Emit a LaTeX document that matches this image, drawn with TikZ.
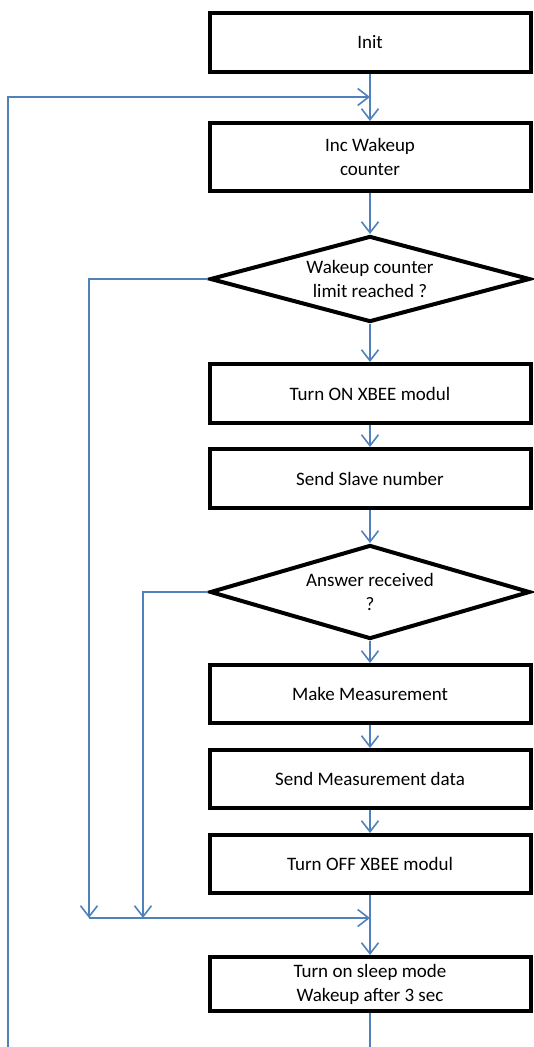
\documentclass[tikz,border=0pt]{standalone}
\usepackage{fontspec}
\setmainfont{Carlito}
\usepackage{tikz}
\usetikzlibrary{arrows.meta,shapes.geometric}
\definecolor{flowblue}{RGB}{79,129,189}
\tikzset{
  stepbox/.style={draw,line width=4pt,rectangle,minimum width=321pt,inner sep=2pt,align=center,font=\fontsize{19}{24}\selectfont},
  askbox/.style={draw,line width=4pt,diamond,aspect=3.6,minimum width=320pt,inner sep=0pt,align=center,font=\fontsize{19}{24}\selectfont},
  flow/.style={draw=flowblue,line width=1.6pt,-{Straight Barb[length=11pt,width=17pt,line width=1.6pt]}},
  wire/.style={draw=flowblue,line width=1.6pt}
}

\begin{document}
\begin{tikzpicture}[x=1pt,y=-1pt]
    \useasboundingbox (0,0) rectangle (533,1047);

    \node[stepbox,minimum height=59pt] (init) at (370,42.5) {Init};
    \node[stepbox,minimum height=68pt] (inc) at (370,157) {Inc Wakeup\\counter};
    \node[askbox,minimum height=86pt] (limit) at (370,279) {Wakeup counter\\limit reached ?};
    \node[stepbox,minimum height=59pt] (xbeeon) at (370,393.5) {Turn ON XBEE modul};
    \node[stepbox,minimum height=59pt] (slave) at (370,478.5) {Send Slave number};
    \node[askbox,minimum height=94pt] (answer) at (370,592) {Answer received\\?};
    \node[stepbox,minimum height=58pt] (measure) at (370,694) {Make Measurement};
    \node[stepbox,minimum height=58pt] (senddata) at (370,779) {Send Measurement data};
    \node[stepbox,minimum height=58pt] (xbeeoff) at (370,864) {Turn OFF XBEE modul};
    \node[stepbox,minimum height=54pt] (sleep) at (370,984) {Turn on sleep mode\\Wakeup after 3 sec};

    \coordinate (join) at (370,97);
    \coordinate (loopl) at (8,97);
    \coordinate (loopb) at (8,1047);
    \coordinate (endb) at (370,1047);
    \coordinate (merge) at (370,918);
    \coordinate (mergel) at (89,918);
    \coordinate (skipa) at (89,918);
    \coordinate (skipb) at (143,918);

    % main line
    \draw[flow] (init) -- (inc);
    \draw[flow] (inc) -- (limit);
    \draw[flow] (limit) -- (xbeeon);
    \draw[flow] (xbeeon) -- (slave);
    \draw[flow] (slave) -- (answer);
    \draw[flow] (answer) -- (measure);
    \draw[flow] (measure) -- (senddata);
    \draw[flow] (senddata) -- (xbeeoff);
    \draw[flow] (xbeeoff) -- (sleep);
    \draw[wire] (sleep) -- (endb);

    % branches
    \draw[flow] (limit.west) -| (skipa);
    \draw[flow] (answer.west) -| (skipb);
    \draw[flow] (mergel) -- (merge);

    % loop back
    \draw[flow] (loopb) -- (loopl) -- (join);
\end{tikzpicture}
\end{document}
